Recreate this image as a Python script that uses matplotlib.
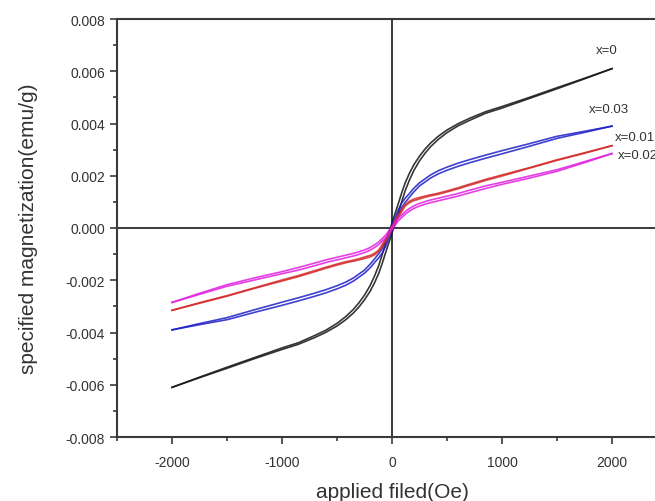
import numpy as np
import matplotlib
matplotlib.use("Agg")
import matplotlib.pyplot as plt
from matplotlib.ticker import FormatStrFormatter

plt.rcParams["font.family"] = ["Liberation Sans", "DejaVu Sans"]
plt.rcParams["axes.unicode_minus"] = False

# positive-field half of each loop; the loop is
# odd-symmetric, so the negative half mirrors these readings
H_pos = [0, 20, 40, 60, 90, 120, 160, 200, 250, 300, 350, 420, 500, 600, 700,
         850, 1000, 1250, 1500, 1750, 2000]

# mean magnetization (emu/g) of the two branches
M_x0 = [0, 0.00026, 0.00052, 0.00079, 0.00120, 0.00158, 0.00198, 0.00232,
        0.00266, 0.00294, 0.00318, 0.00345, 0.00370, 0.00395, 0.00415,
        0.00442, 0.00462, 0.00498, 0.00535, 0.00572, 0.0061]
M_x003 = [0, 0.00022, 0.00042, 0.00062, 0.00088, 0.00106, 0.00126, 0.00146,
          0.00167, 0.00182, 0.00197, 0.00213, 0.00227, 0.00242, 0.00255,
          0.00273, 0.00290, 0.00318, 0.00347, 0.00368, 0.0039]
M_x001 = [0, 0.00016, 0.00032, 0.00047, 0.00068, 0.00087, 0.00100, 0.00108,
          0.00114, 0.00120, 0.00125, 0.00131, 0.00140, 0.00152, 0.00165,
          0.00184, 0.00201, 0.00230, 0.00260, 0.00287, 0.00315]
M_x002 = [0, 0.00011, 0.00022, 0.00033, 0.00046, 0.00058, 0.00070, 0.00080,
          0.00089, 0.00096, 0.00102, 0.00109, 0.00117, 0.00127, 0.00139,
          0.00156, 0.00171, 0.00195, 0.00220, 0.00252, 0.00285]

# half the vertical opening of each loop at the same fields
D_x0 = [0.00019, 0.00019, 0.00019, 0.00018, 0.00017, 0.00015, 0.00013, 0.00011,
        0.00009, 0.00008, 0.00007, 0.00006, 0.00005, 0.00004, 0.00004,
        0.00003, 0.00003, 0.00002, 0.00002, 0.00001, 0.0]
D_x003 = [0.00010, 0.00010, 0.00010, 0.00010, 0.00009, 0.00008, 0.00007,
          0.00007, 0.00006, 0.00006, 0.00006, 0.00006, 0.00006, 0.00006,
          0.00006, 0.00006, 0.00006, 0.00005, 0.00004, 0.00002, 0.0]
D_x001 = [0.00004, 0.00004, 0.00004, 0.00004, 0.00004, 0.00003, 0.00003,
          0.00003, 0.00003, 0.00002, 0.00002, 0.00002, 0.00002, 0.00002,
          0.00002, 0.00002, 0.00002, 0.00001, 0.00001, 0.00001, 0.0]
D_x002 = [0.00005, 0.00005, 0.00005, 0.00005, 0.00005, 0.00005, 0.00005,
          0.00005, 0.00005, 0.00005, 0.00005, 0.00005, 0.00005, 0.00005,
          0.00005, 0.00005, 0.00004, 0.00004, 0.00003, 0.00002, 0.0]

labels = ["x=0", "x=0.03", "x=0.01", "x=0.02"]
label_pos = [(1850, 0.0068), (1790, 0.00455), (2030, 0.0035), (2055, 0.0028)]
colors = ["#141414", "#1e1ec8", "#d42a2a", "#e01ee0"]

fig = plt.figure(figsize=(6.55, 5.02), dpi=100)
ax = fig.add_axes([117/655, 1-438/502, (667-117)/655, (438-20)/502])

ax.axhline(0, color="#3a3a3a", lw=1.4, zorder=1)
ax.axvline(0, color="#3a3a3a", lw=1.4, zorder=1)

Hp = np.array(H_pos, dtype=float)
H_full = np.concatenate([-Hp[::-1], Hp[1:]])
for M, D, c in zip([M_x0, M_x003, M_x001, M_x002],
                   [D_x0, D_x003, D_x001, D_x002], colors):
    M = np.array(M)
    D = np.array(D)
    M_full = np.concatenate([-M[::-1], M[1:]])
    D_full = np.concatenate([D[::-1], D[1:]])
    ax.plot(H_full, M_full + D_full, color=c, lw=1.2, alpha=0.85, zorder=3)
    ax.plot(H_full, M_full - D_full, color=c, lw=1.2, alpha=0.85, zorder=3)

for t, (hx, my) in zip(labels, label_pos):
    ax.text(hx, my, t, fontsize=9.5, color="#333333", ha="left", va="center",
            clip_on=False)

ax.set_xlim(-2500, 2500)
ax.set_ylim(-0.008, 0.008)
ax.set_xticks([-2000, -1000, 0, 1000, 2000])
ax.set_xticks([-2500, -1500, -500, 500, 1500], minor=True)
ax.set_yticks(np.arange(-0.008, 0.0081, 0.002))
ax.set_yticks(np.arange(-0.007, 0.0071, 0.002), minor=True)
ax.yaxis.set_major_formatter(FormatStrFormatter("%.3f"))
ax.tick_params(which="both", direction="out", color="#3a3a3a", width=1.2,
               labelsize=10, labelcolor="#333333")
ax.tick_params(which="major", length=5)
ax.tick_params(which="minor", length=3)
ax.tick_params(axis="x", pad=8)
for s in ax.spines.values():
    s.set_color("#3a3a3a")
    s.set_linewidth(1.5)

ax.set_xlabel("applied filed(Oe)", fontsize=15, color="#333333", labelpad=9)
ax.set_ylabel("specified magnetization(emu/g)", fontsize=15, color="#333333",
              labelpad=20)

fig.savefig("out.png", dpi=100)
